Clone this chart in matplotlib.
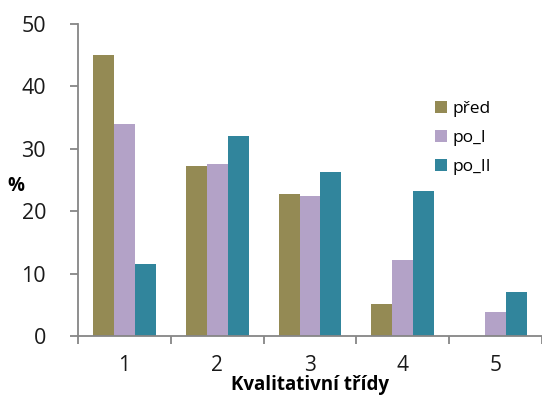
import numpy as np
import matplotlib.pyplot as plt
from matplotlib.ticker import FixedLocator

plt.rcParams['font.family'] = ['Open Sans', 'DejaVu Sans']

# Kvalitativní třídy a podíly (%) v jednotlivých obdobích
categories = ['1', '2', '3', '4', '5']
pred = [45.0, 27.2, 22.8, 5.1, 0.0]
po_1 = [34.0, 27.5, 22.4, 12.2, 3.8]
po_2 = [11.5, 32.0, 26.3, 23.2, 7.0]

series = [('před', pred, '#948A54'),
          ('po_I', po_1, '#B3A2C7'),
          ('po_II', po_2, '#31859C')]

fig = plt.figure(figsize=(5.42, 3.99), dpi=100)
ax = fig.add_axes([0.144, 0.158, 0.856, 0.782])

x = np.arange(len(categories))
width = 0.225
for i, (name, values, color) in enumerate(series):
    ax.bar(x + (i - 1) * width, values, width, color=color, label=name)

ax.set_xlim(-0.5, len(categories) - 0.5)
ax.set_ylim(0, 50)
ax.set_yticks(range(0, 51, 10))
ax.set_xticks(x)
ax.set_xticklabels(categories)
ax.xaxis.set_minor_locator(FixedLocator(np.arange(-0.5, len(categories), 1.0)))

axis_color = '#868686'
for side in ['top', 'right']:
    ax.spines[side].set_visible(False)
for side in ['left', 'bottom']:
    ax.spines[side].set_color(axis_color)
    ax.spines[side].set_linewidth(1.3)

ax.tick_params(axis='y', which='major', length=6, width=1.3, color=axis_color,
               labelsize=15.5, pad=17, labelcolor='#1a1a1a')
ax.tick_params(axis='x', which='major', length=0, labelsize=15, pad=14,
               labelcolor='#1a1a1a')
ax.tick_params(axis='x', which='minor', length=6, width=1.3, color=axis_color)

ax.set_xlabel('Kvalitativní třídy', fontsize=13.5, fontweight='bold', labelpad=-1)
fig.text(0.03, 0.535, '%', fontsize=13.5, fontweight='bold', ha='center', va='center')

ax.legend(loc='upper left', bbox_to_anchor=(0.755, 0.775), frameon=False,
          fontsize=12.5, handlelength=0.65, handleheight=0.65, handletextpad=0.35,
          labelspacing=0.75, borderaxespad=0)

fig.savefig('out.png', dpi=100)
